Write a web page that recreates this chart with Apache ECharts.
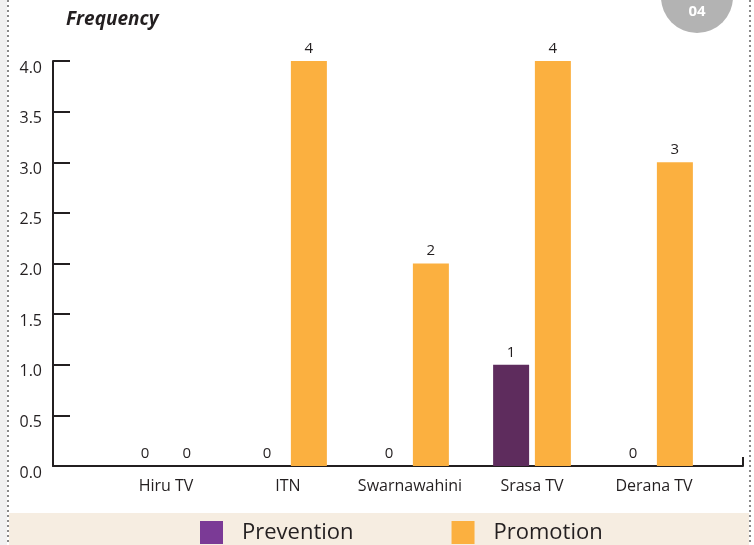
<!DOCTYPE html>
<html>
<head>
<meta charset="utf-8">
<script src="https://cdn.jsdelivr.net/npm/echarts@6/dist/echarts.min.js"></script>
<style>
html,body{margin:0;padding:0;background:#fff;}
#chart{width:754px;height:545px;}
</style>
</head>
<body>
<div id="chart"></div>
<script>
const categories = ['Hiru TV', 'ITN', 'Swarnawahini', 'Srasa TV', 'Derana TV'];
const prevention = [0, 0, 0, 1, 0];
const promotion = [0, 4, 2, 4, 3];
const seriesNames = ['Prevention', 'Promotion'];
const yTicks = { min: 0, max: 4, interval: 0.5 };
const titleText = 'Frequency';
const badgeText = '04';

const FONT = 'Open Sans';
const INK = '#231f20';

const chart = echarts.init(document.getElementById('chart'));
chart.setOption({
  animation: false,
  textStyle: { fontFamily: FONT },
  graphic: [
    { type: 'rect', shape: { x: 0, y: 0, width: 7, height: 545 }, style: { fill: '#f1f1f1' }, z: -1 },
    { type: 'rect', shape: { x: 9, y: 513, width: 740, height: 32 }, style: { fill: '#f6ede1' }, z: -1 },
    { type: 'line', shape: { x1: 8, y1: 0, x2: 8, y2: 545 }, style: { stroke: '#8a8a8a', lineWidth: 2, lineDash: [2, 3] } },
    { type: 'line', shape: { x1: 750, y1: 0, x2: 750, y2: 545 }, style: { stroke: '#8a8a8a', lineWidth: 2, lineDash: [2, 3] } },
    { type: 'circle', shape: { cx: 697, cy: -3, r: 36 }, style: { fill: '#b3b3b3' } },
    { type: 'text', x: 697, y: 12, style: { text: badgeText, fill: '#fff', font: 'bold 15px "Open Sans"', align: 'center', verticalAlign: 'middle' } },
    { type: 'text', x: 66, y: 20, style: { text: titleText, fill: INK, font: 'italic bold 19px "Open Sans"', align: 'left', verticalAlign: 'middle' } }
  ],
  legend: {
    data: [
      { name: seriesNames[0], itemStyle: { color: '#7b3a96' } },
      { name: seriesNames[1], itemStyle: { color: '#fbb040' } }
    ],
    left: 195, top: 516,
    itemWidth: 23, itemHeight: 23, itemGap: 98,
    icon: 'rect',
    textStyle: { fontSize: 22, color: INK, fontFamily: FONT, padding: [0, 0, 0, 14] }
  },
  grid: [
    { left: 53, right: 11, top: 61, bottom: 79 },
    { left: 105, right: 39, top: 61, bottom: 79 }
  ],
  xAxis: [
    { gridIndex: 0, type: 'value', min: 0, max: 1, interval: 1,
      axisLine: { show: true, lineStyle: { color: INK, width: 2 } },
      axisTick: { show: true, inside: true, length: 9, lineStyle: { color: INK, width: 2 } },
      axisLabel: { show: false }, splitLine: { show: false } },
    { gridIndex: 1, type: 'category', data: categories,
      axisLine: { show: false }, axisTick: { show: false },
      axisLabel: { color: INK, fontSize: 16, margin: 12, interval: 0, fontFamily: FONT } }
  ],
  yAxis: [
    { gridIndex: 0, type: 'value', min: yTicks.min, max: yTicks.max, interval: yTicks.interval,
      axisLine: { show: true, lineStyle: { color: INK, width: 2 } },
      axisTick: { show: true, inside: true, length: 17, lineStyle: { color: INK, width: 2 } },
      axisLabel: { color: INK, fontSize: 16, margin: 11, fontFamily: FONT, verticalAlign: 'top', lineHeight: 14,
        formatter: v => v.toFixed(1) },
      splitLine: { show: false } },
    { gridIndex: 1, type: 'value', min: yTicks.min, max: yTicks.max, interval: yTicks.interval, show: false }
  ],
  series: [
    { name: seriesNames[0], type: 'bar', xAxisIndex: 1, yAxisIndex: 1, data: prevention,
      barWidth: 36, barGap: '16%',
      itemStyle: { color: '#5e2c5d' },
      label: { show: true, position: 'top', distance: 5, color: INK, fontSize: 15, fontFamily: FONT } },
    { name: seriesNames[1], type: 'bar', xAxisIndex: 1, yAxisIndex: 1, data: promotion,
      barWidth: 36, barGap: '16%',
      itemStyle: { color: '#fbb040' },
      label: { show: true, position: 'top', distance: 5, color: INK, fontSize: 15, fontFamily: FONT } }
  ]
});
</script>
</body>
</html>
